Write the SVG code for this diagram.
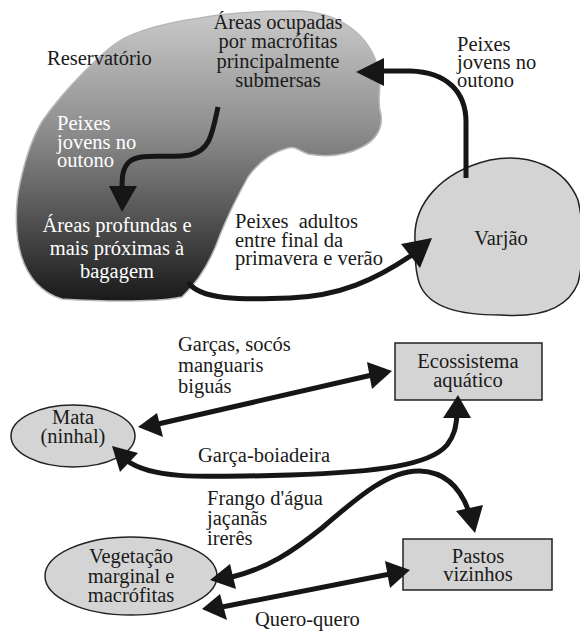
<svg xmlns="http://www.w3.org/2000/svg" width="580" height="632" viewBox="0 0 580 632">
<defs>
<linearGradient id="res" gradientUnits="userSpaceOnUse" x1="0" y1="10" x2="0" y2="300">
<stop offset="0" stop-color="#cbcbcb"/>
<stop offset="0.41" stop-color="#8e8e8e"/>
<stop offset="0.66" stop-color="#5e5e5e"/>
<stop offset="1" stop-color="#1a1a1a"/>
</linearGradient>
<style>
text{font-family:"Liberation Serif","DejaVu Serif",serif;font-size:20.5px;fill:#1a1a1a}
.w{fill:#ffffff}
.c{text-anchor:middle}
.node{fill:#d4d4d4;stroke:#222;stroke-width:1.5}
.ln{fill:none;stroke:#161616;stroke-width:5}
.head{fill:#161616}
</style>
</defs>
<rect width="580" height="632" fill="#ffffff"/>

<g id="reservatorio">
<path d="M200,18 C230,12 270,11 300,11 C320,12 340,18 356,32 C370,44 378,60 380,80 C380,95 377,102 381,115 C383,128 376,140 362,147 C345,156 325,157 308,154 C298,150 295,146 288,148 C272,152 258,163 248,177 C238,195 228,215 220,235 C212,258 200,280 182,297 C160,302 110,302 62,299 C42,293 28,278 21,255 C15,235 15,205 20,183 C24,165 30,140 43,120 C55,103 68,88 84,72 C98,58 110,46 125,38 C145,28 172,22 200,18 Z" fill="url(#res)" stroke="#b8b8b8" stroke-width="1.5"/>
<text x="47" y="65">Reservatório</text>
</g>

<g id="areas-ocupadas">
<text class="c" x="278" y="29">Áreas ocupadas</text>
<text class="c" x="278" y="48">por macrófitas</text>
<text class="c" x="278" y="68">principalmente</text>
<text class="c" x="278" y="87">submersas</text>
</g>

<g id="areas-profundas">
<text class="c w" x="117" y="232">Áreas profundas e</text>
<text class="c w" x="117" y="255">mais próximas à</text>
<text class="c w" x="117" y="278">bagagem</text>
</g>

<g id="varjao">
<path class="node" d="M415,240 C413,205 440,172 490,160 C530,152 565,168 578,200 C584,225 584,260 578,283 C568,308 540,318 500,315 C460,315 430,308 420,285 C415,272 415,255 415,240 Z"/>
<text class="c" x="501" y="245">Varjão</text>
</g>

<g id="ecossistema">
<rect class="node" x="395" y="343" width="147" height="57"/>
<text class="c" x="468" y="368">Ecossistema</text>
<text class="c" x="468" y="387">aquático</text>
</g>

<g id="pastos">
<rect class="node" x="403" y="539" width="149" height="51"/>
<text class="c" x="478" y="563">Pastos</text>
<text class="c" x="478" y="581">vizinhos</text>
</g>

<g id="mata">
<ellipse class="node" cx="73" cy="436" rx="62" ry="31"/>
<text class="c" x="73" y="424">Mata</text>
<text class="c" x="73" y="443">(ninhal)</text>
</g>

<g id="vegetacao">
<ellipse class="node" cx="131" cy="576" rx="86" ry="39"/>
<text class="c" x="131" y="563">Vegetação</text>
<text class="c" x="131" y="583">marginal e</text>
<text class="c" x="131" y="602">macrófitas</text>
</g>

<g id="connectors">
<path class="ln" d="M466,178 L466,122 C466,92 447,72 410,71 L380,71"/>
<polygon class="head" points="356,72 384,58 384,86"/>
<path class="ln" d="M218,107 C212,135 210,150 190,155 C170,159 140,152 129,162 C122,169 122,178 122,190"/>
<polygon class="head" points="122,212 109,186 137,186"/>
<path class="ln" d="M188,282 C200,300 240,300 290,298 C340,296 375,280 412,255"/>
<polygon class="head" points="432,238 401,244 420,268"/>
<path class="ln" d="M158,424 L372,375"/>
<polygon class="head" points="392,371 367,362 372,389"/>
<polygon class="head" points="138,427 157,413 163,437"/>
<path class="ln" d="M126,460 C150,478 190,478 290,475 C380,472 430,465 447,445 C454,436 456,428 457,414"/>
<polygon class="head" points="458,395 443,418 471,418"/>
<polygon class="head" points="112,446 138,453 120,472"/>
<path class="ln" d="M232,577 C268,568 292,552 322,528 C360,495 390,470 420,471 C448,472 462,492 469,512"/>
<polygon class="head" points="210,580 230,564 236,589"/>
<polygon class="head" points="475,533 456,511 483,505"/>
<path class="ln" d="M222,607 L390,574"/>
<polygon class="head" points="202,609 220,594 227,620"/>
<polygon class="head" points="410,570 385,561 390,588"/>
</g>

<g id="labels">
<text class="w" x="57" y="130">Peixes</text>
<text class="w" x="57" y="149">jovens no</text>
<text class="w" x="57" y="167">outono</text>
<text x="457" y="51">Peixes</text>
<text x="457" y="69">jovens no</text>
<text x="457" y="87">outono</text>
<text x="235" y="228" style="white-space:pre">Peixes  adultos</text>
<text x="235" y="247">entre final da</text>
<text x="235" y="265">primavera e verão</text>
<text x="178" y="351">Garças, socós</text>
<text x="178" y="372">manguaris</text>
<text x="178" y="393">biguás</text>
<text x="198" y="462">Garça-boiadeira</text>
<text x="207" y="505">Frango d'água</text>
<text x="207" y="525">jaçanãs</text>
<text x="207" y="545">irerês</text>
<text x="255" y="626">Quero-quero</text>
</g>
</svg>
